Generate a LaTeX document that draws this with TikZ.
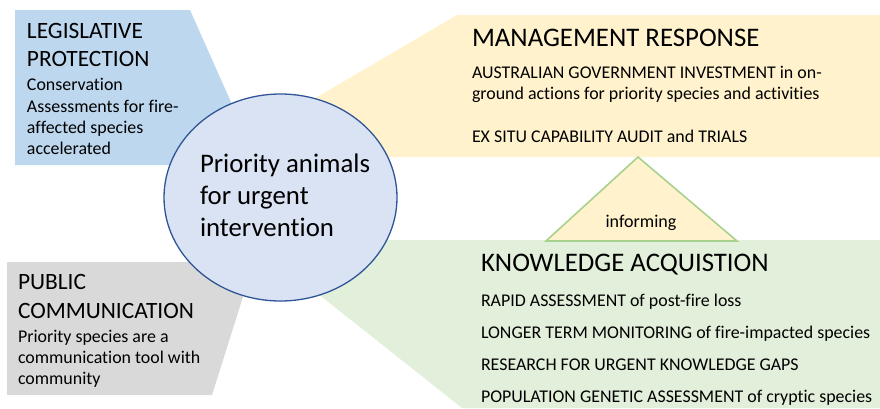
\documentclass[tikz,border=0pt]{standalone}
\usepackage{fontspec}
\setmainfont[Ligatures=NoCommon]{Carlito}
\usetikzlibrary{shapes.geometric}
\definecolor{legblue}{HTML}{BDD7EE}
\definecolor{mgmtyellow}{HTML}{FFF2CC}
\definecolor{knowgreen}{HTML}{E2EFDA}
\definecolor{pubgrey}{HTML}{D9D9D9}
\definecolor{circfill}{HTML}{DAE3F3}
\definecolor{circline}{HTML}{2F5597}
\definecolor{triline}{HTML}{A9D18E}
\tikzset{
  txt/.style={anchor=base west, inner sep=0pt, outer sep=0pt, text=black},
  bigtitle/.style={txt, font=\fontsize{26.8}{31}\selectfont},
  sidetitle/.style={txt, font=\fontsize{23.4}{27}\selectfont},
  bodytxt/.style={txt, font=\fontsize{17.9}{21}\selectfont},
  circtxt/.style={txt, font=\fontsize{26.8}{32}\selectfont},
}
\begin{document}
\begin{tikzpicture}[x=1pt,y=-1pt]
\useasboundingbox (0,0) rectangle (880,408);
% background shapes
\fill[legblue] (15,10) -- (190,10) -- (259,165) -- (15,165) -- cycle;
\fill[mgmtyellow] (457,15) -- (880,15) -- (880,157) -- (340,157) -- (278,120) -- cycle;
\fill[knowgreen] (330,240) -- (880,240) -- (880,408) -- (462,408) -- (288,270) -- cycle;
\fill[pubgrey] (7,262) -- (254,262) -- (212,395) -- (7,395) -- cycle;
% central ellipse
\node[draw=circline, fill=circfill, line width=1.3pt, ellipse, minimum width=233pt, minimum height=207pt, inner sep=0pt] (centre) at (280.5,197.5) {};
\node[circtxt] (c1) at (200,172) {Priority animals};
\node[circtxt] (c2) at (200,204) {for urgent};
\node[circtxt] (c3) at (200,236) {intervention};
% informing triangle
\coordinate (tapex) at (638,157);
\coordinate (tleft) at (546,241);
\coordinate (tright) at (737,241);
\draw[triline, fill=mgmtyellow, line width=1.6pt, line join=miter] (tapex) -- (tleft) -- (tright) -- cycle;
\node[anchor=base, inner sep=0pt, font=\fontsize{18}{21}\selectfont] (inform) at (641,227) {informing};
% legislative
\node[sidetitle] (l1) at (27,38) {LEGISLATIVE};
\node[sidetitle] (l2) at (27,66) {PROTECTION};
\node[bodytxt] (l3) at (27,90) {Conservation};
\node[bodytxt] (l4) at (27,112) {Assessments for fire-};
\node[bodytxt] (l5) at (27,133) {affected species};
\node[bodytxt] (l6) at (27,154) {accelerated};
% public communication
\node[sidetitle] (p1) at (18,289) {PUBLIC};
\node[sidetitle] (p2) at (18,318) {COMMUNICATION};
\node[bodytxt] (p3) at (18,342) {Priority species are a};
\node[bodytxt] (p4) at (18,363) {communication tool with};
\node[bodytxt] (p5) at (18,384) {community};
% management
\node[bigtitle] (m1) at (472,46) {MANAGEMENT RESPONSE};
\node[bodytxt] (m2) at (472,78) {AUSTRALIAN GOVERNMENT INVESTMENT in on-};
\node[bodytxt] (m3) at (472,99) {ground actions for priority species and activities};
\node[bodytxt] (m4) at (472,142) {EX SITU CAPABILITY AUDIT and TRIALS};
% knowledge
\node[bigtitle] (k1) at (481,271) {KNOWLEDGE ACQUISTION};
\node[bodytxt] (k2) at (481,306) {RAPID ASSESSMENT of post-fire loss};
\node[bodytxt] (k3) at (481,338) {LONGER TERM MONITORING of fire-impacted species};
\node[bodytxt] (k4) at (481,370) {RESEARCH FOR URGENT KNOWLEDGE GAPS};
\node[bodytxt] (k5) at (481,402) {POPULATION GENETIC ASSESSMENT of cryptic species};
\end{tikzpicture}
\end{document}
